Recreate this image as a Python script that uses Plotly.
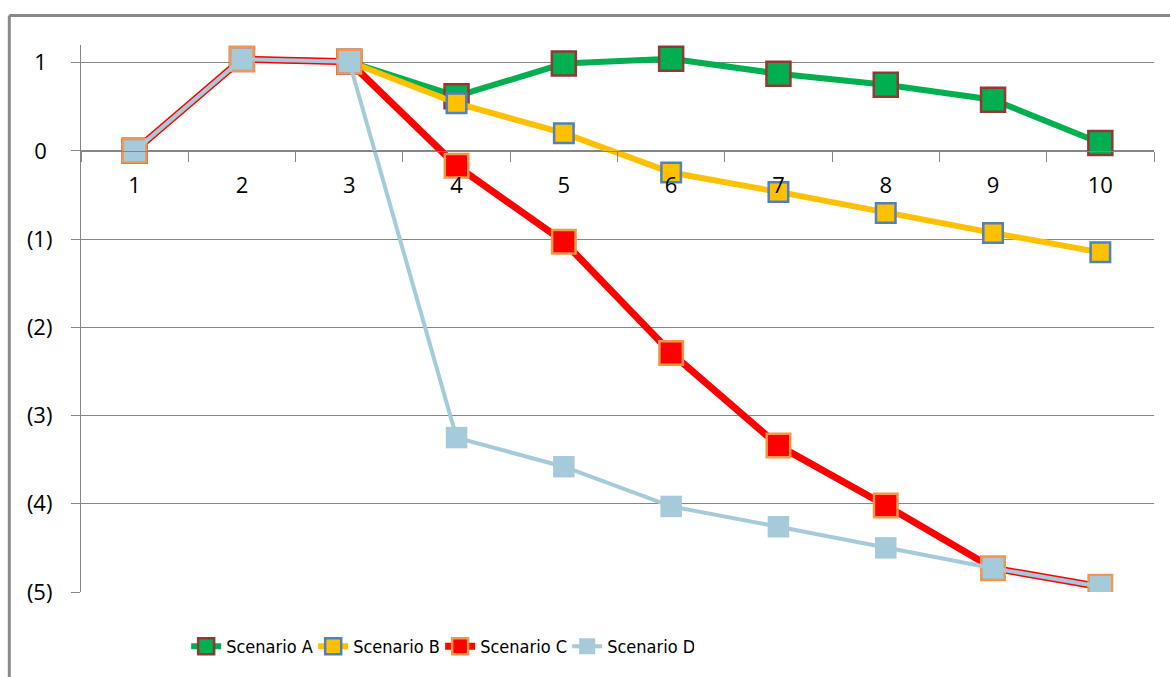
import plotly.graph_objects as go

# Periods on the category axis
periods = ["1", "2", "3", "4", "5", "6", "7", "8", "9", "10"]

# Series values per period
scenario_a = [0, 1.04, 1.01, 0.62, 0.99, 1.045, 0.875, 0.75, 0.58, 0.09]
scenario_b = [0, 1.04, 1.01, 0.54, 0.20, -0.245, -0.465, -0.705, -0.93, -1.15]
scenario_c = [0, 1.04, 1.01, -0.17, -1.03, -2.29, -3.34, -4.02, -4.73, -4.94]
scenario_d = [0, 1.04, 1.01, -3.25, -3.58, -4.03, -4.26, -4.50, -4.73, -4.94]

# Value axis ticks (accounting style, negatives in parentheses)
y_tickvals = [1, 0, -1, -2, -3, -4, -5]
y_ticktext = ["1\u00a0", "0\u00a0", "(1)", "(2)", "(3)", "(4)", "(5)"]

GRID = "#868686"
Y_MIN, Y_MAX = -5, 1.2

fig = go.Figure()

series = [
    ("Scenario A", scenario_a, "#00B050", 6, dict(size=24, color="#00B050", line=dict(color="#953735", width=2.5))),
    ("Scenario B", scenario_b, "#FFC000", 6, dict(size=19.5, color="#FFC000", line=dict(color="#4F81BD", width=2.5))),
    ("Scenario C", scenario_c, "#FF0000", 7, dict(size=23.5, color="#FF0000", line=dict(color="#F79646", width=2.5))),
    ("Scenario D", scenario_d, "#A5CBDA", 4, dict(size=21.5, color="#A5CBDA", line=dict(color="#A5CBDA", width=0))),
]

for name, vals, col, lw, mk in series:
    fig.add_trace(go.Scatter(
        x=periods, y=vals, name=name, mode="lines+markers",
        line=dict(color=col, width=lw),
        marker=dict(symbol="square", **mk),
    ))

# Chart frame (top and left edges of the chart area border)
frame = dict(color="#8a8a8a", width=3)
fig.add_shape(type="line", xref="paper", yref="paper", x0=-0.0668, x1=1.2, y0=1.054, y1=1.054, line=frame)
fig.add_shape(type="line", xref="paper", yref="paper", x0=-0.0668, x1=-0.0668, y0=1.054, y1=-0.3, line=frame)

fig.update_layout(
    width=1170, height=677,
    margin=dict(l=80.7, r=16.4, t=44.6, b=84.6, autoexpand=False),
    paper_bgcolor="white", plot_bgcolor="white",
    font=dict(family="Open Sans, sans-serif", size=22, color="black"),
    showlegend=True,
    legend=dict(
        orientation="h", x=0.098, xanchor="left", y=-0.0997, yanchor="middle",
        font=dict(family="DejaVu Sans Condensed, sans-serif", size=18, color="black"),
        entrywidth=82, entrywidthmode="pixels",
        bgcolor="rgba(0,0,0,0)",
    ),
    xaxis=dict(
        type="category", range=[-0.5, 9.5],
        anchor="free", position=(0 - Y_MIN) / (Y_MAX - Y_MIN),
        showline=True, linecolor=GRID, linewidth=1.3,
        ticks="outside", tickson="boundaries", ticklen=10, tickcolor=GRID, tickwidth=1.3,
        showgrid=False, zeroline=False,
        ticklabelstandoff=15,
        tickfont=dict(size=22),
    ),
    yaxis=dict(
        range=[Y_MIN, Y_MAX],
        tickvals=y_tickvals, ticktext=y_ticktext,
        showline=True, linecolor=GRID, linewidth=1.3,
        ticks="outside", ticklen=9, tickcolor=GRID, tickwidth=1.3,
        showgrid=True, gridcolor=GRID, gridwidth=1.3,
        zeroline=False,
        ticklabelstandoff=14,
        tickfont=dict(size=22),
    ),
)

fig.write_html("out.html")
